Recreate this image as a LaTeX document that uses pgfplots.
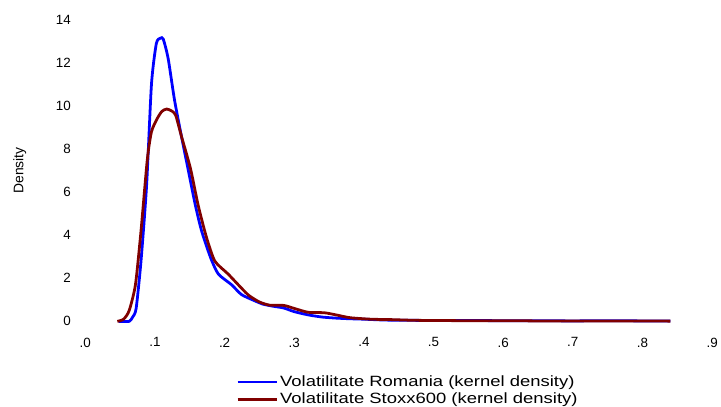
\documentclass[border=0pt]{standalone}
\usepackage{fontspec}
\setmainfont{Liberation Sans}
\usepackage{pgfplots}
\pgfplotsset{compat=1.18}

\definecolor{romblue}{RGB}{0,0,255}
\definecolor{stoxxred}{RGB}{128,0,0}

\begin{document}
\begin{tikzpicture}
\begin{axis}[
name=ax,
scale only axis,
width=632pt, height=304pt,
xmin=0, xmax=0.9,
ymin=0, ymax=14,
axis line style={draw=none},
major tick length=0pt,
xtick={0,0.1,0.2,0.3,0.4,0.5,0.6,0.7,0.8,0.9},
xticklabels={.0,.1,.2,.3,.4,.5,.6,.7,.8,.9},
ytick={0,2,4,6,8,10,12,14},
yticklabels={0,2,4,6,8,10,12,14},
ticklabel style={font=\fontsize{13.5}{15}\selectfont},
yticklabel style={anchor=east, xshift=-11pt},
xticklabel style={anchor=north, yshift=-13pt},
ylabel={\fontsize{14}{16}\selectfont Density},
ylabel style={at={(rel axis cs:0,0.5)}, anchor=center, rotate=0, yshift=66pt},
clip=false,
legend style={at={(rel axis cs:0.2405,-0.175)}, anchor=north west,
  draw=none, fill=none, font=\fontsize{15}{16}\selectfont,
  row sep=2pt, inner sep=0pt,
  nodes={inner sep=1.5pt}},
legend cell align=left,
legend image code/.code={\draw[#1] (0pt,0pt) -- (40pt,0pt);},
]
\addplot [romblue, line width=2.8pt, smooth, tension=0.4] coordinates {
(0.048,0) (0.063,0.0) (0.068,0.2) (0.073,0.6) (0.080,2.8) (0.088,6.3)
(0.095,11.0) (0.102,12.9) (0.108,13.15) (0.112,13.1) (0.119,12.2)
(0.128,10.3) (0.138,8.6) (0.148,7.0) (0.158,5.4) (0.167,4.2) (0.180,2.95)
(0.191,2.2) (0.210,1.7) (0.224,1.25) (0.24,1.0) (0.255,0.8) (0.27,0.7)
(0.285,0.62) (0.30,0.45) (0.32,0.3) (0.34,0.2) (0.36,0.15) (0.38,0.12)
(0.40,0.1) (0.43,0.06) (0.46,0.05) (0.50,0.04) (0.55,0.04) (0.60,0.03)
(0.65,0.03) (0.70,0.02) (0.75,0.03) (0.80,0.02) (0.84,0.02)
};
\addlegendentry{\scalebox{1.24}[1]{Volatilitate Romania (kernel density)}}
\addplot [stoxxred, line width=2.8pt, smooth, tension=0.4] coordinates {
(0.046,0) (0.055,0.1) (0.063,0.5) (0.072,1.7) (0.080,4.2) (0.089,7.5)
(0.095,8.8) (0.103,9.4) (0.110,9.75) (0.117,9.86) (0.125,9.75) (0.130,9.55)
(0.138,8.6) (0.151,7.1) (0.162,5.4) (0.174,3.9) (0.186,2.8) (0.205,2.2)
(0.224,1.55) (0.235,1.2) (0.25,0.9) (0.265,0.75) (0.285,0.74) (0.30,0.6)
(0.32,0.42) (0.343,0.4) (0.36,0.3) (0.38,0.17) (0.41,0.1) (0.44,0.08)
(0.47,0.05) (0.50,0.04) (0.55,0.03) (0.60,0.03) (0.65,0.02) (0.70,0.02)
(0.75,0.02) (0.80,0.02) (0.84,0.01)
};
\addlegendentry{\scalebox{1.24}[1]{Volatilitate Stoxx600 (kernel density)}}
\end{axis}
\path[use as bounding box] (ax.south west) ++(-86pt,-81pt) rectangle ++(721pt,405pt);
\end{tikzpicture}
\end{document}
